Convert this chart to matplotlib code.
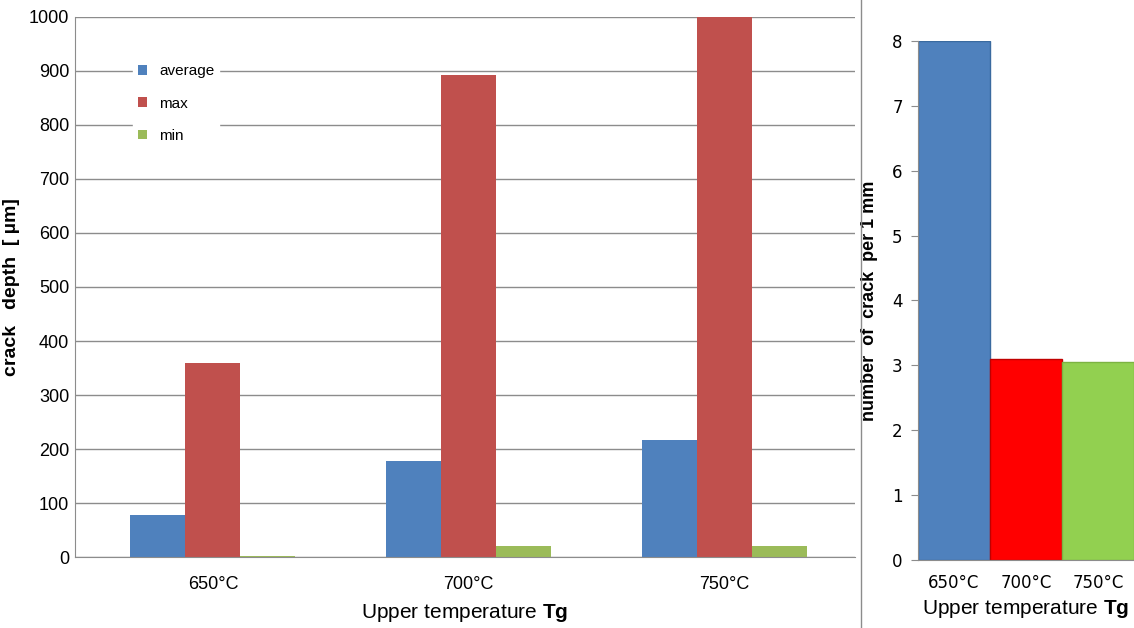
import numpy as np
import matplotlib.pyplot as plt
from matplotlib.lines import Line2D

plt.rcParams['font.family'] = ['Liberation Sans', 'DejaVu Sans']
plt.rcParams['mathtext.fontset'] = 'custom'
plt.rcParams['mathtext.bf'] = 'Liberation Sans:bold'

# data
temps = ['650°C', '700°C', '750°C']
depth_avg = [77, 178, 216]
depth_max = [360, 893, 1000]
depth_min = [2, 20, 20]
crack_count = [8.0, 3.1, 3.05]

fig = plt.figure(figsize=(11.34, 6.28), dpi=100)

# left panel: crack depth
ax = fig.add_axes([0.066, 0.113, 0.688, 0.86])
x = np.arange(len(temps))
w = 0.215
ax.bar(x - w, depth_avg, w, color='#4F81BD', label='average')
ax.bar(x, depth_max, w, color='#C0504D', label='max')
ax.bar(x + w, depth_min, w, color='#9BBB59', label='min')
ax.set_xlim(-0.54, 2.51)
ax.set_ylim(0, 1000)
ax.set_yticks(range(0, 1001, 100))
ax.set_xticks(x)
ax.set_xticklabels(temps)
ax.yaxis.grid(True, color='#8c8c8c', linewidth=1)
ax.set_axisbelow(True)
for s in ['top', 'right']:
    ax.spines[s].set_visible(False)
for s in ['left', 'bottom']:
    ax.spines[s].set_color('#8c8c8c')
ax.tick_params(axis='y', length=0, labelsize=13, pad=4)
ax.tick_params(axis='x', length=0, labelsize=13, pad=14)
ax.set_ylabel('crack   depth  [ µm]', fontsize=14, fontweight='bold')
ax.yaxis.set_label_coords(-0.07, 0.5)
ax.set_xlabel(r'Upper temperature $\mathbf{Tg}$', fontsize=15, labelpad=6)
leg = ax.legend(loc='upper left', bbox_to_anchor=(0.065, 0.935), frameon=True,
                fontsize=11, handlelength=0.6, handleheight=0.6,
                labelspacing=1.2, handletextpad=0.8, borderpad=0.3)
leg.get_frame().set_edgecolor('white')
leg.get_frame().set_alpha(1)

# divider between panels
fig.add_artist(Line2D([0.759, 0.759], [0.0, 1.0], color='#8c8c8c', linewidth=1))

# right panel: number of cracks
ax2 = fig.add_axes([0.8095, 0.108, 0.1905, 0.827])
colors2 = ['#4F81BD', '#FF0000', '#92D050']
edges2 = ['#3a6a9f', '#c00000', '#7cb342']
ax2.bar(x, crack_count, 1.0, color=colors2, edgecolor=edges2, linewidth=1)
ax2.set_xlim(-0.5, 2.5)
ax2.set_ylim(0, 8)
ax2.set_yticks(range(0, 9))
ax2.set_xticks(x)
ax2.set_xticklabels(temps, fontfamily='DejaVu Sans')
for lbl in ax2.get_yticklabels():
    lbl.set_fontfamily('DejaVu Sans')
for s in ['top', 'right']:
    ax2.spines[s].set_visible(False)
for s in ['left', 'bottom']:
    ax2.spines[s].set_color('#8c8c8c')
ax2.tick_params(axis='y', direction='out', length=5, color='#8c8c8c', labelsize=12, pad=6)
ax2.tick_params(axis='x', length=0, labelsize=12, pad=10)
ax2.set_ylabel('number  of  crack  per 1 mm', fontsize=13, fontweight='bold')
ax2.yaxis.set_label_coords(-0.185, 0.5)
ax2.set_xlabel(r'Upper temperature $\mathbf{Tg}$', fontsize=15, labelpad=4)

fig.savefig('out.png', dpi=100)
